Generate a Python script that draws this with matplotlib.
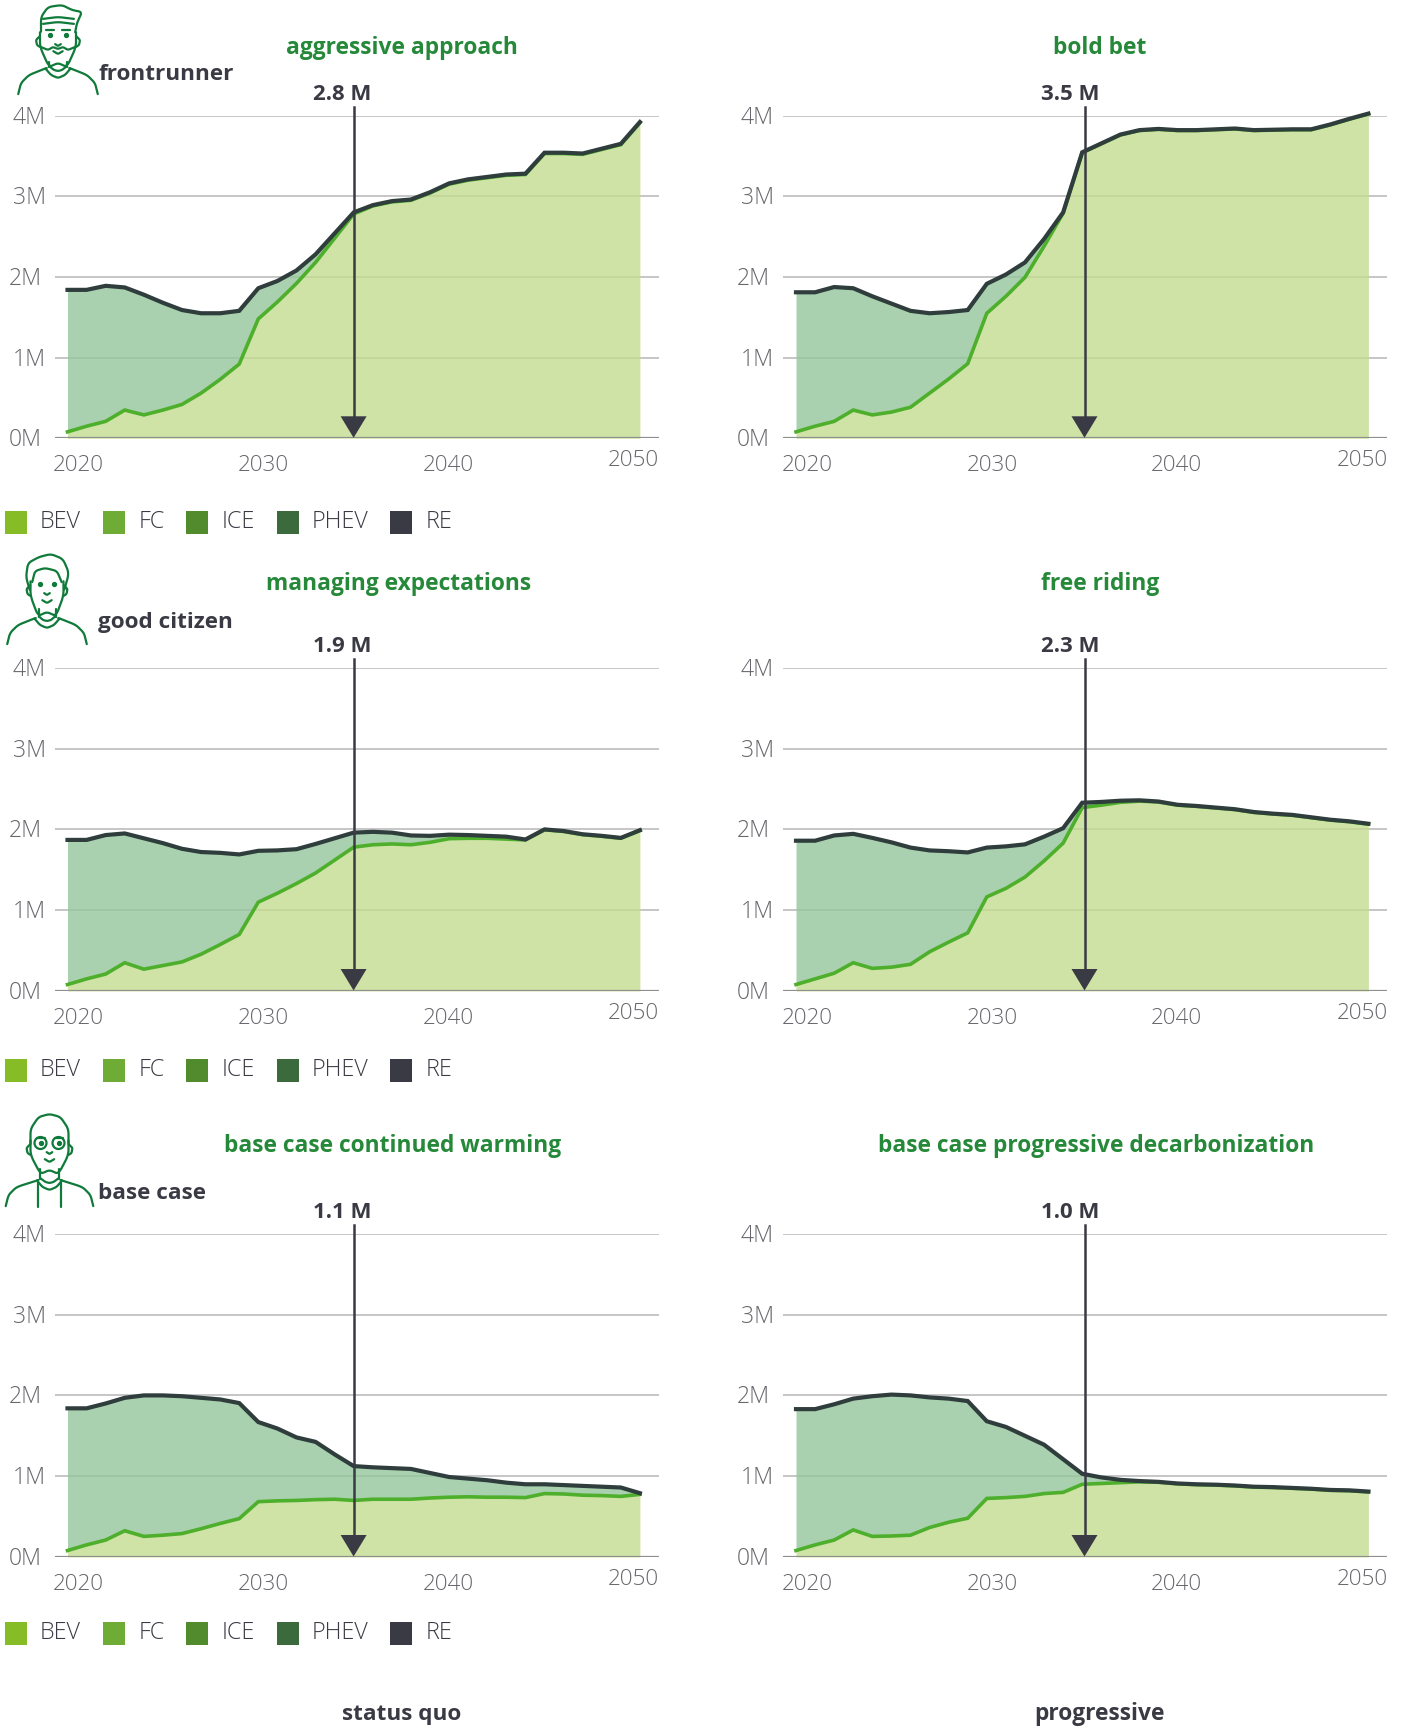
import matplotlib
matplotlib.use('Agg')
import matplotlib.pyplot as plt
import numpy as np
from matplotlib.patches import Rectangle, Polygon, Circle

plt.rcParams['font.family'] = ['Open Sans', 'DejaVu Sans']

W, H = 1405, 1726

years = list(range(2020, 2051))
y_ticks = [0, 1, 2, 3, 4]
y_tick_labels = ['0M', '1M', '2M', '3M', '4M']
x_ticks = [2020, 2030, 2040, 2050]
legend_names = ['BEV', 'FC', 'ICE', 'PHEV', 'RE']
legend_colors = ['#86bc25', '#6fac36', '#528a2e', '#3b6b3c', '#3a3a44']

titles = ['aggressive approach', 'bold bet', 'managing expectations', 'free riding',
          'base case continued warming', 'base case progressive decarbonization']
arrow_labels = ['2.8 M', '3.5 M', '1.9 M', '2.3 M', '1.1 M', '1.0 M']
persona_names = ['frontrunner', 'good citizen', 'base case']

total_aggressive = [1.84, 1.84, 1.89, 1.87, 1.78, 1.68, 1.59, 1.55, 1.55, 1.58, 1.86, 1.95, 2.08, 2.28, 2.54, 2.80,
                    2.89, 2.94, 2.96, 3.05, 3.16, 3.21, 3.24, 3.27, 3.28, 3.54, 3.54, 3.53, 3.59, 3.65, 3.92]
bev_aggressive = [0.08, 0.15, 0.21, 0.35, 0.29, 0.35, 0.42, 0.56, 0.73, 0.92, 1.48, 1.69, 1.92, 2.18, 2.48, 2.78,
                  2.88, 2.93, 2.95, 3.04, 3.15, 3.20, 3.23, 3.26, 3.27, 3.53, 3.53, 3.52, 3.58, 3.64, 3.91]

total_bold = [1.81, 1.81, 1.875, 1.86, 1.76, 1.67, 1.58, 1.55, 1.565, 1.59, 1.915, 2.03, 2.18, 2.47, 2.80, 3.545,
              3.655, 3.765, 3.82, 3.835, 3.82, 3.82, 3.83, 3.84, 3.82, 3.825, 3.83, 3.83, 3.89, 3.96, 4.025]
bev_bold = [0.08, 0.15, 0.21, 0.35, 0.29, 0.325, 0.385, 0.56, 0.735, 0.925, 1.55, 1.76, 1.995, 2.38, 2.79, 3.54,
            3.65, 3.76, 3.815, 3.83, 3.815, 3.815, 3.825, 3.835, 3.815, 3.82, 3.825, 3.825, 3.885, 3.955, 4.02]

total_managing = [1.87, 1.87, 1.93, 1.95, 1.89, 1.83, 1.76, 1.72, 1.71, 1.69, 1.735, 1.74, 1.755, 1.82, 1.89, 1.96,
                  1.97, 1.96, 1.925, 1.92, 1.935, 1.93, 1.92, 1.91, 1.875, 2.0, 1.98, 1.94, 1.92, 1.895, 1.99]
bev_managing = [0.08, 0.15, 0.21, 0.35, 0.27, 0.315, 0.36, 0.455, 0.575, 0.70, 1.10, 1.21, 1.33, 1.46, 1.62, 1.78,
                1.81, 1.82, 1.81, 1.84, 1.885, 1.89, 1.89, 1.88, 1.87, 1.995, 1.975, 1.935, 1.915, 1.89, 1.985]

total_free = [1.86, 1.86, 1.925, 1.945, 1.895, 1.84, 1.775, 1.74, 1.73, 1.715, 1.775, 1.79, 1.815, 1.91, 2.015, 2.33,
              2.34, 2.355, 2.36, 2.345, 2.305, 2.29, 2.27, 2.25, 2.215, 2.195, 2.18, 2.15, 2.12, 2.10, 2.07]
bev_free = [0.08, 0.15, 0.22, 0.35, 0.28, 0.295, 0.33, 0.485, 0.605, 0.72, 1.165, 1.27, 1.41, 1.61, 1.83, 2.27,
            2.30, 2.335, 2.35, 2.34, 2.30, 2.285, 2.265, 2.245, 2.21, 2.19, 2.175, 2.145, 2.115, 2.095, 2.065]

total_warming = [1.84, 1.84, 1.90, 1.97, 2.0, 2.0, 1.99, 1.97, 1.95, 1.905, 1.67, 1.59, 1.48, 1.425, 1.27, 1.125,
                 1.11, 1.10, 1.09, 1.04, 0.99, 0.97, 0.95, 0.92, 0.90, 0.90, 0.89, 0.88, 0.87, 0.86, 0.79]
bev_warming = [0.08, 0.15, 0.21, 0.325, 0.255, 0.27, 0.29, 0.35, 0.415, 0.475, 0.685, 0.695, 0.70, 0.71, 0.715, 0.70,
               0.715, 0.715, 0.715, 0.73, 0.74, 0.745, 0.74, 0.74, 0.735, 0.785, 0.78, 0.765, 0.76, 0.75, 0.775]

total_decarb = [1.83, 1.83, 1.89, 1.96, 1.99, 2.01, 2.0, 1.975, 1.96, 1.93, 1.68, 1.61, 1.50, 1.39, 1.21, 1.03,
                0.985, 0.955, 0.94, 0.93, 0.91, 0.90, 0.895, 0.885, 0.87, 0.865, 0.855, 0.845, 0.83, 0.825, 0.81]
bev_decarb = [0.08, 0.15, 0.21, 0.335, 0.255, 0.26, 0.27, 0.365, 0.43, 0.48, 0.725, 0.735, 0.75, 0.785, 0.80, 0.90,
              0.91, 0.92, 0.93, 0.925, 0.905, 0.895, 0.89, 0.88, 0.865, 0.86, 0.85, 0.84, 0.825, 0.82, 0.805]

totals = [total_aggressive, total_bold, total_managing, total_free, total_warming, total_decarb]
bevs = [bev_aggressive, bev_bold, bev_managing, bev_free, bev_warming, bev_decarb]

# pixel layout, measured on the reference
grid_left = [55, 783]
grid_w = 604
x2020 = [67.5, 796]
px_per_year = 19.08
arrow_x = [353.6, 1084.5]
label_shift = [-11.5, -14]
row_top = [115.6, 667.8, 1233.8]
row_bot = [438.3, 991, 1557]
title_y = [48.5, 583.5, 1145.5]
arrow_label_y = [94.5, 646.5, 1212.5]
legend_y = [522, 1070, 1633]
dark = '#3a3a44'
green = '#26893a'
icon_green = '#0f7a3a'
axis_grey = '#66666c'

fig = plt.figure(figsize=(W / 100, H / 100), dpi=100)
# pixel overlay for texts, arrows and icons, sits on top of the panels
px = fig.add_axes([0, 0, 1, 1], zorder=10)
px.set_xlim(0, W)
px.set_ylim(H, 0)
px.axis('off')
px.patch.set_visible(False)


def draw_panel(idx):
    col = idx % 2
    row = idx // 2
    top, bot = row_top[row], row_bot[row]
    left, x0 = grid_left[col], x2020[col]
    ax = fig.add_axes([left / W, 1 - bot / H, grid_w / W, (bot - top) / H])
    ax.set_xlim(2020 - (x0 - left) / px_per_year, 2020 + (left + grid_w - x0) / px_per_year)
    ax.set_ylim(0, 4)
    ax.patch.set_visible(False)
    for s in ax.spines.values():
        s.set_visible(False)
    ax.set_yticks(y_ticks)
    ax.set_xticks([])
    ax.set_yticklabels([])
    ax.tick_params(length=0)
    ax.grid(axis='y', color='#bcbcbc', lw=1.2, zorder=1)
    ax.axhline(0, color='#8f8f8f', lw=1.6, zorder=5)

    total = np.array(totals[idx])
    bev = np.array(bevs[idx])
    ax.fill_between(years, bev, total, color='#94c69b', alpha=0.8, lw=0, zorder=2, clip_on=False)
    ax.fill_between(years, 0, bev, color='#c3dc90', alpha=0.8, lw=0, zorder=2, clip_on=False)
    ax.plot(years, bev, color='#4daf2b', lw=2.6, zorder=3, solid_joinstyle='miter', clip_on=False)
    ax.plot(years, total, color='#2f3d3c', lw=3.0, zorder=4, solid_joinstyle='miter', clip_on=False)

    # arrow at the 2035 target
    xa = arrow_x[col]
    px.plot([xa, xa], [top - 9, bot - 18], color=dark, lw=1.8, zorder=6)
    px.add_patch(Polygon([(xa - 13, bot - 22), (xa + 13, bot - 22), (xa, bot - 0.5)], closed=True,
                         color=dark, lw=0, zorder=7))
    px.text(xa + label_shift[col], arrow_label_y[row], arrow_labels[idx], ha='center', va='center', fontsize=16,
            fontweight='bold', color=dark)

    # y labels
    for v, lab in zip(y_ticks, y_tick_labels):
        yy = bot + (top - bot) * v / 4 + 2
        xr = left - 9 if v in (1, 3, 4) else left - 13
        px.text(xr, yy, lab, ha='right', va='center', fontsize=16.6, color=axis_grey, fontweight='light')

    # x labels sit a bit off the ticks, the last one higher up
    label_x = [x0 + 11, x0 + 10 * px_per_year + 5.5, x0 + 20 * px_per_year - 1, x0 + 30 * px_per_year - 6.5]
    label_y = [bot + 27.5, bot + 27.5, bot + 27.5, bot + 22.5]
    for lx, ly, t in zip(label_x, label_y, x_ticks):
        px.text(lx, ly, str(t), ha='center', va='center', fontsize=16.2, color=axis_grey, fontweight='light')

    cx = [[402, 1100], [399, 1100], [392.5, 1096]][row][col]
    px.text(cx, title_y[row], titles[idx], ha='center', va='center', fontsize=16.4, fontweight='bold', color=green)


def draw_legend(y):
    xs = [5, 103, 186, 277, 390]
    tx = [40, 139, 222, 312, 426]
    for x, t, name, c in zip(xs, tx, legend_names, legend_colors):
        px.add_patch(Rectangle((x, y - 11.5), 22, 23, color=c, lw=0))
        px.text(t, y, name, ha='left', va='center', fontsize=16.8, color=dark, fontweight='light')


def stroke(pts, cx, cy):
    # smooth stroke through a few points, local icon units
    pts = np.array(pts, dtype=float)
    t = np.arange(len(pts))
    tt = np.linspace(0, len(pts) - 1, 12 * len(pts))
    xs = np.interp(tt, t, pts[:, 0])
    ys = np.interp(tt, t, pts[:, 1])
    if len(pts) > 2:
        k = np.ones(9) / 9
        xs = np.convolve(np.pad(xs, 4, mode='edge'), k, mode='valid')
        ys = np.convolve(np.pad(ys, 4, mode='edge'), k, mode='valid')
    px.plot(cx + xs, cy + ys, color=icon_green, lw=1.6, solid_capstyle='round', zorder=8)


def body(cx, cy, w=40, neck=9, neck_top=-38):
    # shoulders, neck and collar, shared by the three people
    for sg in (-1, 1):
        stroke([(sg * w, 0), (sg * (w - 3), -12), (sg * (w - 11), -20), (sg * 14, -26), (sg * 11, -27)], cx, cy)
        stroke([(sg * neck, -28), (sg * neck, neck_top)], cx, cy)
    stroke([(-13, -27), (-7, -20), (0, -17), (7, -20), (13, -27)], cx, cy)
    stroke([(-neck, -29), (-4, -25), (0, -24), (4, -25), (neck, -29)], cx, cy)


def face(cx, cy, eye_y, chin, hw=17, eye_dx=7.5, brows=False, dots=True):
    for sg in (-1, 1):
        stroke([(sg * hw, eye_y + 1), (sg * (hw + 4), eye_y + 5), (sg * (hw + 3), eye_y + 10), (sg * hw, eye_y + 12)], cx, cy)
    stroke([(-hw, eye_y - 4), (-hw, eye_y + 12), (-9, chin + 4), (0, chin), (9, chin + 4), (hw, eye_y + 12), (hw, eye_y - 4)], cx, cy)
    stroke([(-3, eye_y + 9), (0, eye_y + 11), (3, eye_y + 9)], cx, cy)
    stroke([(-5, eye_y + 16), (0, eye_y + 19), (5, eye_y + 16)], cx, cy)
    if dots:
        px.plot([cx - eye_dx, cx + eye_dx], [cy + eye_y, cy + eye_y], 'o', color=icon_green, ms=2.8, zorder=8)
    if brows:
        stroke([(-eye_dx - 4, eye_y - 5), (-eye_dx + 4, eye_y - 5)], cx, cy)
        stroke([(eye_dx - 4, eye_y - 5), (eye_dx + 4, eye_y - 5)], cx, cy)


# frontrunner
body(58, 95, neck=9, neck_top=-33)
face(58, 95, eye_y=-60, chin=-32, hw=18, eye_dx=8, brows=True)
stroke([(-17, -62), (-17, -78), (-10, -88), (4, -90), (14, -85), (24, -83), (19, -72), (17, -62)], 58, 95)
stroke([(-16, -76), (0, -78), (17, -76)], 58, 95)
stroke([(-16, -71), (0, -73), (17, -71)], 58, 95)
stroke([(-17, -48), (-10, -45), (-5, -48), (0, -46), (5, -48), (10, -45), (17, -48)], 58, 95)

# good citizen
body(47, 645, neck=8.5, neck_top=-36)
face(47, 645, eye_y=-61, chin=-33, hw=16.5, eye_dx=7)
stroke([(-17, -54), (-21, -68), (-19, -82), (-8, -88), (4, -91), (16, -86), (22, -72), (17, -54)], 47, 645)
stroke([(-15, -62), (-12, -74), (-2, -77), (10, -74), (15, -62)], 47, 645)

# base case
body(49.5, 1207, w=44, neck=9.5, neck_top=-38)
face(49.5, 1207, eye_y=-64, chin=-37, hw=19, eye_dx=9, brows=True, dots=True)
stroke([(-19, -62), (-19, -78), (-11, -90), (0, -93), (11, -90), (19, -78), (19, -62)], 49.5, 1207)
for sg in (-1, 1):
    px.add_patch(Circle((49.5 + sg * 9, 1207 - 64), 6, fill=False, ec=icon_green, lw=1.6, zorder=8))
    stroke([(sg * 11.5, -27), (sg * 11.5, 0)], 49.5, 1207)

for i in range(6):
    draw_panel(i)
for y in legend_y:
    draw_legend(y)

for xp, yp, name in zip([98.5, 98.5, 98.5], [74, 622.5, 1193.5], persona_names):
    px.text(xp, yp, name, ha='left', va='center', fontsize=16.2, fontweight='bold', color=dark)

px.text(401.5, 1714, 'status quo', ha='center', va='center', fontsize=16.2, fontweight='bold', color=dark)
px.text(1099.5, 1714, 'progressive', ha='center', va='center', fontsize=16.4, fontweight='bold', color=dark)

fig.savefig('out.png', dpi=100)
